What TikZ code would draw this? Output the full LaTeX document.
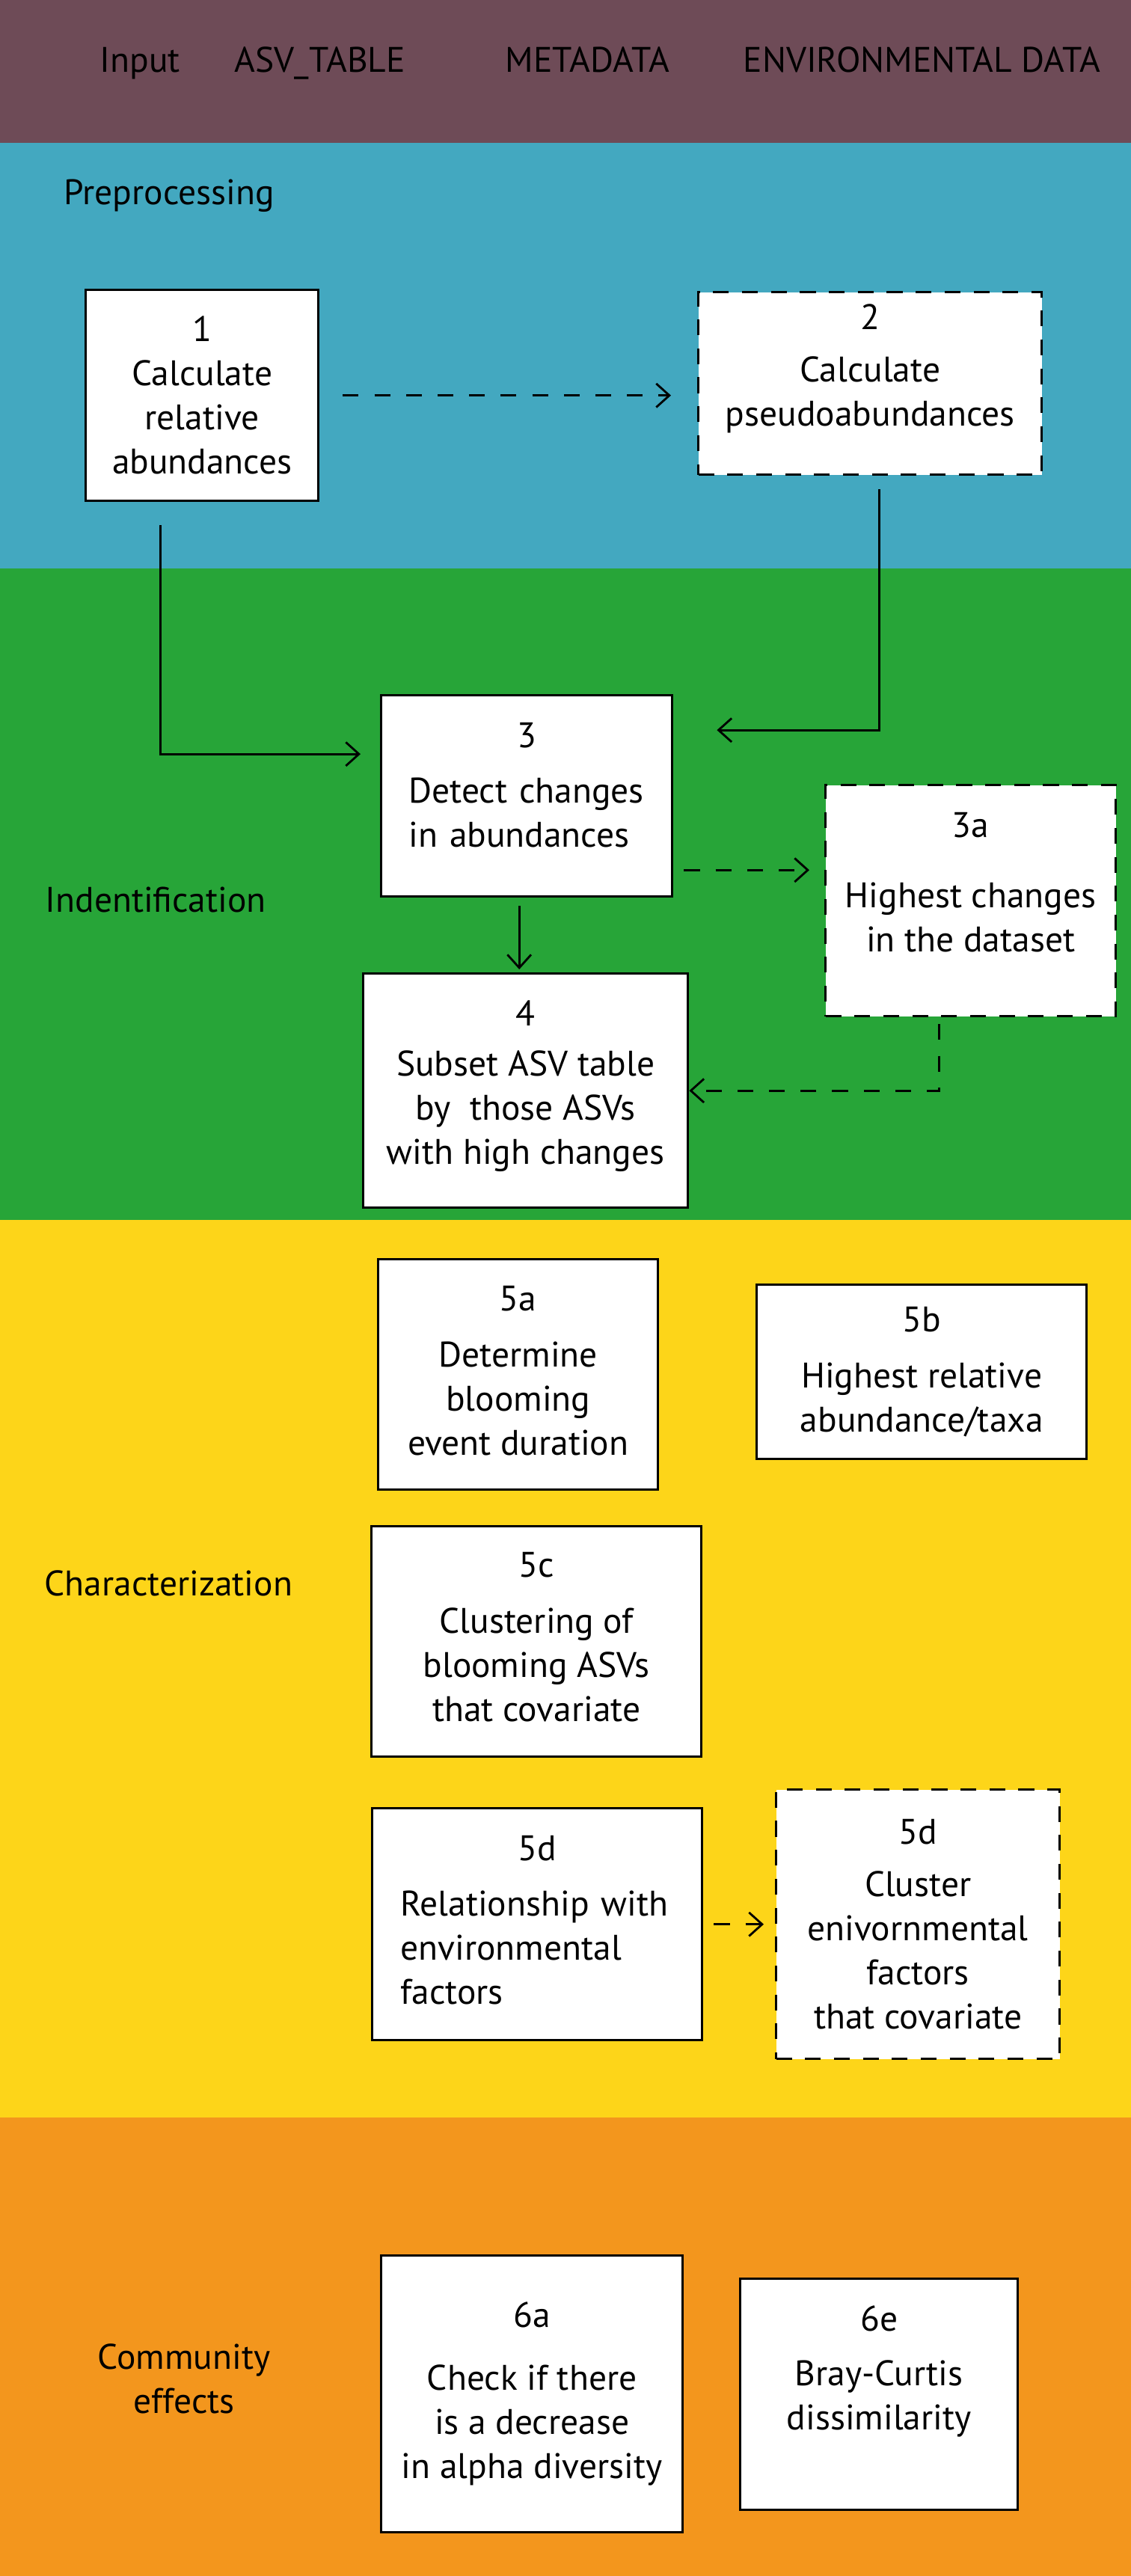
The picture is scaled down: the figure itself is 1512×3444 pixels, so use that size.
\documentclass[tikz,border=0pt]{standalone}
\usepackage{fontspec}
\setmainfont{PT Sans}
\usetikzlibrary{positioning, arrows.meta}
\definecolor{inputcol}{HTML}{6E4B57}
\definecolor{prepcol}{HTML}{43A8C0}
\definecolor{identcol}{HTML}{27A538}
\definecolor{charcol}{HTML}{FDD519}
\definecolor{commcol}{HTML}{F3961D}
\tikzset {
    >={Straight Barb[length=5pt, width=9pt]},
    procbox/.style={draw, line width=0.9pt, fill=white, align=center, anchor=north west, inner sep=0pt},
    optbox/.style={procbox, dash pattern=on 6pt off 5pt},
    flow/.style={->, line width=0.8pt},
    optflow/.style={flow, dash pattern=on 6pt off 6pt},
    band/.style={anchor=base west, inner sep=0pt}
}
% lifts the text of a box by half the given depth
\newcommand{\liftby}[1]{\rule[-#1]{0pt}{0pt}}
\begin{document}
\begin{tikzpicture}[x=0.01cm, y=-0.01cm, font=\fontsize{13.5}{16.8}\selectfont]
                    \useasboundingbox (0,0) rectangle (1512,3444);
                    \fill[inputcol] (0,0) rectangle (1512,191);
                    \fill[prepcol] (0,191) rectangle (1512,760);
                    \fill[identcol] (0,760) rectangle (1512,1631);
                    \fill[charcol] (0,1631) rectangle (1512,2831);
                    \fill[commcol] (0,2831) rectangle (1512,3444);

                    \node[band] (in) at (133,96) {Input};
                    \node[band] (asv) at (313,96) {ASV\_TABLE};
                    \node[band] (meta) at (675,96) {METADATA};
                    \node[band] (env) at (993,96) {ENVIRONMENTAL DATA};

                    \node[band] (prep) at (85,273) {Preprocessing};
                    \node[band] (ident) at (60,1219) {Indentification};
                    \node[band] (charact) at (59,2133) {Characterization};
                    \node[align=center] (comm) at (246,3180) {Community\\effects};

                    \node[procbox, minimum width=3.11cm, minimum height=2.82cm] (s1) at (113,386) {1\\Calculate\\relative\\abundances};
                    \node[optbox, minimum width=4.59cm, minimum height=2.44cm] (s2) at (932,389) {2\\[3pt]Calculate\\pseudoabundances\liftby{0.49cm}};
                    \node[procbox, align=left, text width=3.15cm, minimum width=3.89cm, minimum height=2.69cm] (s3) at (508,928) {\makebox[\linewidth]{3}\\[4.3pt]Detect changes\\in abundances\liftby{0.30cm}};
                    \node[optbox, minimum width=3.88cm, minimum height=3.09cm] (s3a) at (1102,1048) {3a\\[10pt]Highest changes\\in the dataset\liftby{0.50cm}};
                    \node[procbox, minimum width=4.34cm, minimum height=3.13cm] (s4) at (484,1300) {4\\[2.3pt]Subset ASV table\\by~ those ASVs\\with high changes\liftby{0.22cm}};

                    \node[procbox, minimum width=3.74cm, minimum height=3.08cm] (s5a) at (504,1682) {5a\\[4.5pt]Determine\\blooming\\event duration\liftby{0.11cm}};
                    \node[procbox, minimum width=4.41cm, minimum height=2.33cm] (s5b) at (1010,1716) {5b\\[4.5pt]Highest relative\\abundance/taxa};
                    \node[procbox, minimum width=4.41cm, minimum height=3.08cm] (s5c) at (495,2039) {5c\\[4.5pt]Clustering of\\blooming ASVs\\that covariate\liftby{0.12cm}};
                    \node[procbox, align=left, text width=3.65cm, minimum width=4.41cm, minimum height=3.10cm] (s5d) at (496,2416) {\makebox[\linewidth]{5d}\\[4.3pt]Relationship with\\environmental\\factors\liftby{0.12cm}};
                    \node[optbox, minimum width=3.79cm, minimum height=3.60cm] (s5e) at (1036,2391) {5d\\[3pt]Cluster\\enivornmental\\factors\\that covariate};

                    \node[procbox, minimum width=4.03cm, minimum height=3.70cm] (s6a) at (508,3014) {6a\\[7pt]Check if there\\is a decrease\\in alpha diversity};
                    \node[procbox, minimum width=3.71cm, minimum height=3.09cm] (s6e) at (988,3045) {6e\\[4pt]Bray-Curtis\\dissimilarity\liftby{0.71cm}};

                    \draw[optflow, shorten <=0.31cm, shorten >=0.35cm] (s1.east) -- (s1.east -| s2.west);
                    \draw[flow, shorten <=0.31cm, shorten >=0.26cm] ([xshift=-0.56cm]s1.south) |- ([yshift=0.56cm]s3.west);
                    \draw[flow, shorten <=0.18cm, shorten >=0.58cm] ([xshift=0.12cm]s2.south) |- ([yshift=0.88cm]s3.east);
                    \draw[optflow, shorten <=0.14cm, shorten >=0.2cm] ([yshift=-0.99cm]s3.east) -- ([yshift=-0.99cm]s3.east -| s3a.west);
                    \draw[flow, shorten <=0.11cm, shorten >=0.04cm] ([xshift=-0.1cm]s3.south) -- ([xshift=-0.1cm]s3.south |- s4.north);
                    \draw[optflow, shorten <=0.09cm] ([xshift=-0.42cm]s3a.south) |- (s4.east);
                    \draw[optflow, shorten <=0.14cm, shorten >=0.15cm] (s5d.east) -- (s5d.east -| s5e.west);
                    \end{tikzpicture}
\end{document}
